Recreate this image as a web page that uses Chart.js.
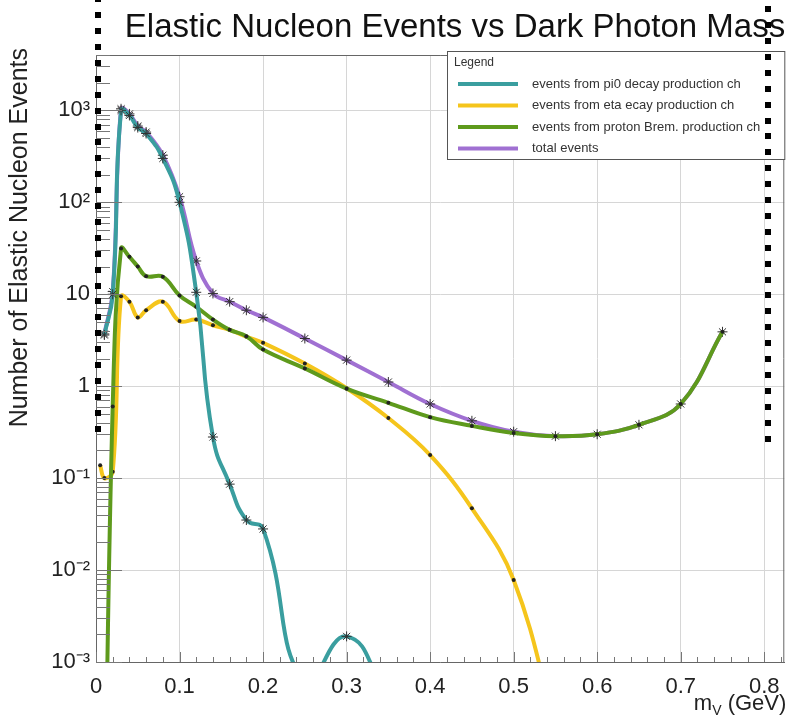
<!DOCTYPE html>
<html>
<head>
<meta charset="utf-8">
<script src="https://cdn.jsdelivr.net/npm/chart.js@4.4.1/dist/chart.umd.min.js"></script>
<style>
  body { margin: 0; background: #fff; }
  #wrap { width: 793px; height: 716px; }
</style>
</head>
<body>
<div id="wrap"><canvas id="nucleon" width="793" height="716"></canvas></div>
<script>
// dark photon mass points (GeV)
const mass = [0.005, 0.01, 0.02, 0.03, 0.04, 0.05, 0.06, 0.08, 0.1, 0.12, 0.14, 0.16, 0.18, 0.2, 0.25, 0.3, 0.35, 0.4, 0.45, 0.5, 0.55, 0.6, 0.65, 0.7, 0.75];

// events per channel (null = not drawn)
const pi0Events   = [null, 3.6, 10, 1000, 880, 650, 560, 300, 100, 10.5, 0.28, 0.086, 0.035, 0.028, 0.0006, 0.0019, 0.0004, null, null, null, null, null, null, null, null];
const etaEvents   = [0.138, 0.10, 0.117, 9.5, 8.3, 5.6, 6.7, 8.3, 5.1, 5.3, 4.6, 4.1, 3.45, 2.96, 1.76, 0.95, 0.45, 0.178, 0.047, 0.0078, 0.0002, null, null, null, null];
const bremEvents  = [null, 0.00001, 0.6, 31.5, 25.5, 20, 15.7, 15.5, 9.7, 7.3, 5.3, 4.1, 3.5, 2.5, 1.56, 0.94, 0.66, 0.46, 0.37, 0.31, 0.286, 0.30, 0.38, 0.64, 3.9];
const totalEvents = [null, 3.7, 10.7, 1040, 915, 675, 580, 325, 115, 23, 10.2, 8.3, 6.7, 5.6, 3.3, 1.92, 1.11, 0.64, 0.42, 0.32, 0.286, 0.30, 0.38, 0.64, 3.9];

const seriesLabels = [
  "events from pi0 decay production ch",
  "events from eta ecay production ch",
  "events from proton Brem. production ch",
  "total events"
];

const xMajorTicks = [0, 0.1, 0.2, 0.3, 0.4, 0.5, 0.6, 0.7, 0.8];
const yMajorTicks = [0.001, 0.01, 0.1, 1, 10, 100, 1000];
const yTickLabels = ["10\u207B\u00B3", "10\u207B\u00B2", "10\u207B\u00B9", "1", "10", "10\u00B2", "10\u00B3"];

const FONT = "'Liberation Sans', Arial, Helvetica, sans-serif";

function points(values) {
  let out = [];
  for (let i = 0; i < mass.length; i++) {
    if (values[i] !== null) out.push({ x: mass[i], y: values[i] });
  }
  return out;
}

function isMajor(t) { return t && t.major; }

// titles, legend box, inward ticks, frame and the dotted guides
const decor = {
  id: 'decor',
  beforeDraw(chart) {
    const ctx = chart.ctx;
    ctx.save();
    ctx.fillStyle = '#fff';
    ctx.fillRect(0, 0, chart.width, chart.height);
    ctx.restore();
  },
  afterDraw(chart) {
    const ctx = chart.ctx;
    const a = chart.chartArea;
    const xs = chart.scales.x, ys = chart.scales.y;
    ctx.save();

    // frame top / right
    ctx.strokeStyle = '#666';
    ctx.lineWidth = 1;
    ctx.beginPath();
    ctx.moveTo(a.left, a.top + 0.5); ctx.lineTo(a.right, a.top + 0.5);
    ctx.moveTo(a.right - 0.5, a.top); ctx.lineTo(a.right - 0.5, a.bottom);
    ctx.stroke();

    // inward ticks
    ctx.strokeStyle = '#777';
    ctx.beginPath();
    xs.ticks.forEach(t => {
      const px = Math.round(xs.getPixelForValue(t.value)) + 0.5;
      ctx.moveTo(px, a.bottom); ctx.lineTo(px, a.bottom - (t.major ? 10 : 5));
    });
    ys.ticks.forEach(t => {
      const py = Math.round(ys.getPixelForValue(t.value)) + 0.5;
      ctx.moveTo(a.left, py); ctx.lineTo(a.left + (t.major ? 26 : 14), py);
    });
    ctx.stroke();

    // main title
    ctx.fillStyle = '#111';
    ctx.font = '33px ' + FONT;
    ctx.textAlign = 'center';
    ctx.textBaseline = 'alphabetic';
    ctx.fillText('Elastic Nucleon Events vs Dark Photon Mass', 455, 37);

    // y title, right aligned at the top of the axis
    ctx.save();
    ctx.translate(20, a.top - 7);
    ctx.rotate(-Math.PI / 2);
    ctx.font = '25px ' + FONT;
    ctx.fillStyle = '#222';
    ctx.textAlign = 'right';
    ctx.textBaseline = 'middle';
    ctx.fillText('Number of Elastic Nucleon Events', 0, 0);
    ctx.restore();

    // x title m_V (GeV)
    ctx.fillStyle = '#222';
    ctx.textAlign = 'left';
    ctx.textBaseline = 'alphabetic';
    ctx.font = '22px ' + FONT;
    const tail = ' (GeV)';
    const wTail = ctx.measureText(tail).width;
    const wM = ctx.measureText('m').width;
    ctx.font = '14px ' + FONT;
    const wV = ctx.measureText('V').width;
    let x0 = a.right + 2 - wTail - wV - wM;
    ctx.font = '22px ' + FONT;
    ctx.fillText('m', x0, 710);
    ctx.font = '14px ' + FONT;
    ctx.fillText('V', x0 + wM, 715);
    ctx.font = '22px ' + FONT;
    ctx.fillText(tail, x0 + wM + wV, 710);

    // legend
    const lx = 447, ly = 51, lw = a.right + 1 - lx, lh = 109;
    ctx.fillStyle = '#fff';
    ctx.fillRect(lx, ly, lw, lh);
    ctx.strokeStyle = '#555';
    ctx.strokeRect(lx + 0.5, ly + 0.5, lw - 1, lh - 1);
    ctx.fillStyle = '#333';
    ctx.font = '12px ' + FONT;
    ctx.textBaseline = 'middle';
    ctx.fillText('Legend', lx + 7, ly + 12);
    chart.data.datasets.forEach((ds, i) => {
      const ry = ly + 33 + i * 21.5;
      ctx.strokeStyle = ds.borderColor;
      ctx.lineWidth = 4;
      ctx.beginPath();
      ctx.moveTo(lx + 11, ry); ctx.lineTo(lx + 71, ry);
      ctx.stroke();
      ctx.fillStyle = '#333';
      ctx.font = '13px ' + FONT;
      ctx.fillText(ds.label, lx + 85, ry);
    });

    // thick dotted guides
    ctx.fillStyle = '#000';
    [[0.002, 0.32], [0.805, 0.25]].forEach(g => {
      const cx = xs.getPixelForValue(g[0]);
      let top = ys.getPixelForValue(g[1]) - 6;
      while (top > -6) {
        ctx.fillRect(Math.round(cx - 3), Math.round(top), 6, 6);
        top -= 15.9;
      }
    });
    ctx.restore();
  }
};

const ctx = document.getElementById('nucleon').getContext('2d');
new Chart(ctx, {
  type: 'line',
  data: {
    datasets: [
      {
        label: seriesLabels[0], data: points(pi0Events), order: 0,
        borderColor: '#3a9e9f', borderWidth: 4, tension: 0.5,
        pointStyle: 'star', pointRadius: 5, pointBorderColor: '#333', pointBorderWidth: 1
      },
      {
        label: seriesLabels[1], data: points(etaEvents), order: 2,
        borderColor: '#f5c51c', borderWidth: 4, tension: 0.4,
        pointStyle: 'circle', pointRadius: 2, pointBackgroundColor: '#222', pointBorderColor: '#222', pointBorderWidth: 0
      },
      {
        label: seriesLabels[2], data: points(bremEvents), order: 1,
        borderColor: '#5e9a1c', borderWidth: 4, tension: 0.4,
        pointStyle: 'circle', pointRadius: 2, pointBackgroundColor: '#222', pointBorderColor: '#222', pointBorderWidth: 0
      },
      {
        label: seriesLabels[3], data: points(totalEvents), order: 3,
        borderColor: '#a070d2', borderWidth: 4, tension: 0.4,
        pointStyle: 'star', pointRadius: 5, pointBorderColor: '#333', pointBorderWidth: 1
      }
    ]
  },
  options: {
    responsive: false,
    animation: false,
    devicePixelRatio: 1,
    layout: { padding: { top: 55, right: 6, left: 0, bottom: 0 } },
    plugins: { legend: { display: false }, tooltip: { enabled: false }, title: { display: false } },
    scales: {
      x: {
        type: 'linear', min: 0, max: 0.824,
        afterBuildTicks(scale) {
          let t = [];
          xMajorTicks.forEach((v, i) => {
            t.push({ value: v, major: true });
            for (let k = 1; k < 5; k++) {
              const m = v + k * 0.02;
              if (m <= 0.824) t.push({ value: m, major: false });
            }
          });
          scale.ticks = t;
        },
        afterFit(scale) { scale.height = 54; },
        ticks: {
          autoSkip: false, maxRotation: 0, padding: 12, color: '#222',
          font: { family: FONT, size: 22 },
          callback(v, i, ticks) {
            if (!ticks[i].major) return '';
            return v === 0 ? '0' : v.toFixed(1);
          }
        },
        grid: {
          drawTicks: false,
          color: c => isMajor(c.tick) ? '#d6d6d6' : 'rgba(0,0,0,0)'
        },
        border: { display: true, color: '#666', width: 1 }
      },
      y: {
        type: 'logarithmic', min: 0.001, max: 4000,
        afterBuildTicks(scale) {
          let t = [];
          yMajorTicks.forEach(v => {
            t.push({ value: v, major: true });
            for (let k = 2; k < 10; k++) {
              if (v * k <= 4000) t.push({ value: v * k, major: false });
            }
          });
          scale.ticks = t;
        },
        afterFit(scale) { scale.width = 96; },
        ticks: {
          autoSkip: false, padding: 6, color: '#222',
          font: { family: FONT, size: 22 },
          callback(v, i, ticks) {
            if (!ticks[i].major) return '';
            const j = yMajorTicks.findIndex(m => Math.abs(m - v) / m < 1e-6);
            return j >= 0 ? yTickLabels[j] : '';
          }
        },
        grid: {
          drawTicks: false,
          color: c => isMajor(c.tick) ? '#d6d6d6' : 'rgba(0,0,0,0)'
        },
        border: { display: true, color: '#666', width: 1 }
      }
    }
  },
  plugins: [decor]
});
</script>
</body>
</html>
